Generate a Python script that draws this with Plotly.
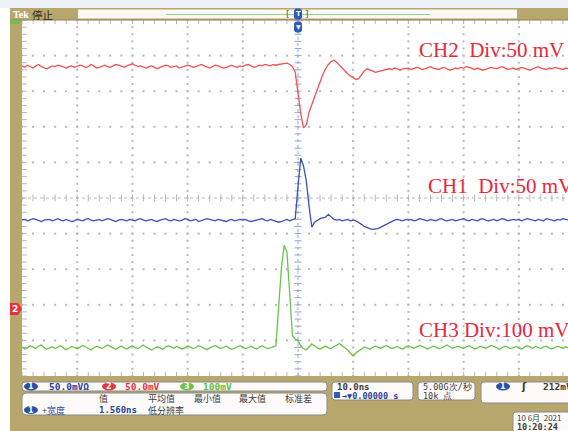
import plotly.graph_objects as go

W, H = 568, 431

# ---------------- data ----------------
# time axis: 10 ns/div, trigger at centre, samples every 0.5 ns
t_ns = [-50 + 0.5 * i for i in range(199)]

ch1_mv = ([0, 1, -1, 0, 2, 1, -1, -2, 0, 1, 1, -1, 0, 2, 0, -1, 1, 0, -2, -1]
          + [1, 0, -1, 1, 2, 0, -1, 0, 1, -1, 0, 2, 1, -1, -2, 0, 1, 0, -1, 1]
          + [0, -1, 1, 2, 0, -1, 0, 1, -1, -2, 0, 1, 2, 0, -1, 1, 0, -1, 0, 2]
          + [1, -1, 0, 1, -2, -1, 0, 2, 1, 0, -1, 1, 0, -1, -2, 0, 1, -1, 0, 1]
          + [0, 1, -1, -2, -1, 0, 1, 2, 0, -1, 1, 0, -1, -3, -2, 0, 1, -1, 0, 2]
          + [47, 87, 76, 55, 20, -10, -3, 0, 2, 3, 4, 8, 5, 1, 0, 1, -1, 0, 1, -1]
          + [0, -1, -3, -6, -9, -11, -12, -13, -13, -12, -10, -8, -5, -3, -1, 0, 1, 0, -1, 1]
          + [0, 1, -1, 0, 2, 1, 0, -1, 1, 0, -1, 1, 2, 0, -1, 0, 1, -1, 0, 1]
          + [2, 0, -1, 1, 0, -1, 1, 2, 0, -1, 0, 1, -1, 0, 2, 1, -1, 0, 1, 0]
          + [1, -1, 0, 2, 1, 0, -1, 1, 0, -1, 2, 1, 0, -1, 1, 0, 2, 1, 0])

ch2_mv = ([1, -1, 2, 0, -2, 1, 3, 0, -1, -3, -1, 1, 0, 2, 1, -1, -2, 0, 1, -1]
          + [0, 2, 1, -1, 0, 3, 1, -2, -1, 1, 2, 0, -1, 1, 3, 2, 0, -1, 1, 2]
          + [4, 2, 0, 1, -1, -2, 0, 1, -1, -3, -1, 0, 2, 1, -1, 0, 1, -2, -1, 0]
          + [2, 1, -1, 0, 1, 3, 1, -1, -2, 0, 2, 1, 0, -2, -1, 1, 2, 0, -1, 1]
          + [0, 2, 3, 1, -1, 0, 2, 1, 3, 2, 1, 3, 2, 3, 4, 4, 5, 3, 0, -8]
          + [-38, -66, -86, -82, -64, -53, -42, -31, -20, -11, -3, 3, 7, 9, 6, 2, -3, -7, -10, -13]
          + [-16, -18, -17, -12, -6, -3, -4, -6, -8, -7, -6, -5, -4, -3, -4, -2, -3, -5, -3, -2]
          + [-2, -4, -3, -1, -2, -4, -3, -2, 0, -2, -3, -4, -2, -1, -3, -5, -4, -2, -3, -1]
          + [-2, 0, -1, -3, -4, -2, -3, -5, -4, -2, -1, -2, -3, -1, 0, -2, -4, -3, -2, -4]
          + [-3, -1, -2, -4, -5, -3, -2, 0, -2, -3, -4, -2, -3, -1, -2, -3, -4, -2, -3])

ch3_mv = ([3, -3, 0, 6, 2, -2, 5, 8, 1, -4, 0, 3, -2, 2, 6, 0, -5, -1, 4, 1]
          + [-3, 2, 7, 3, -1, -6, 0, 4, 2, -2, 3, 8, 4, -1, -4, 1, 5, 0, -3, 2]
          + [6, 1, -2, 3, 8, 2, -3, -6, -1, 3, 0, -4, 2, 6, 3, -1, 4, 1, -3, 0]
          + [5, 2, -2, 1, 6, 3, -1, -5, 0, 4, 7, 2, -2, 1, 5, 0, -4, -1, 3, 6]
          + [2, -2, 1, 5, 0, -3, 2, 6, 1, -2, 0, 3, 6, 116, 225, 288, 268, 152, 34, 25]
          + [20, 6, -2, -6, 2, 11, 6, 0, -3, 2, 5, 0, -2, 3, 8, 12, 6, 0, -6, -15]
          + [-23, -14, -8, -3, 2, 0, -4, 1, 5, 2, -1, 3, 7, 2, -2, 1, 4, -1, -3, 2]
          + [6, 2, -1, 3, 7, 4, 0, -3, 1, 5, 2, -2, 0, 4, 8, 3, -1, 2, 5, 1]
          + [-2, 3, 6, 1, -3, 0, 4, 2, -1, 3, 7, 4, 0, -4, 1, 5, 2, -2, 1, 4]
          + [0, -3, 2, 6, 3, -1, 4, 1, -2, 3, 5, 0, -3, 1, 4, 2, -1, 3, 0])

channels = ["CH1", "CH2", "CH3"]
mv_per_div = [50, 50, 100]
offset_div = [-0.62, 3.69, -4.21]
labels = ["CH1\u00a0\u00a0Div:50 mV", "CH2\u00a0\u00a0Div:50 mV", "CH3 Div:100 mV"]

# ---------------- styling ----------------
KHAKI = "#b7a76d"
TRACE_COLORS = ["#3f4fb4", "#ef5454", "#6cc24c"]
LABEL_RED = "#e6283c"
GRID = "#b8b8b8"
CGRID = "#9aa5d2"

X = lambda px: px / W
Y = lambda py: 1 - py / H

PLOT_L, PLOT_T, PLOT_B = 22, 20, 376
CENTER_X = 298
PX_PER_DIV = 55.2
x_left = -(CENTER_X - PLOT_L) / PX_PER_DIV * 10
x_right = (W - CENTER_X) / PX_PER_DIV * 10

fig = go.Figure()

# graticule dots
gx, gy = [], []
for k in range(-4, 5):
    if k == 0:
        continue
    for j in range(51):
        gx.append(k * 10); gy.append(-5 + 0.2 * j)
for k in range(-4, 5):
    if k == 0:
        continue
    for j in range(50):
        gx.append(-50 + 2 * j); gy.append(k)
fig.add_trace(go.Scatter(x=gx, y=gy, mode="markers", hoverinfo="skip",
                         marker=dict(symbol="square", size=2, color=GRID, line_width=0)))

# centre cross ticks + edge ticks
hx = [-50 + 2 * j for j in range(50)]
fig.add_trace(go.Scatter(x=hx, y=[0] * len(hx), mode="markers", hoverinfo="skip",
                         marker=dict(symbol="line-ns-open", size=5, color=GRID, line=dict(color=GRID, width=1))))
fig.add_trace(go.Scatter(x=hx + hx, y=[5] * len(hx) + [-5] * len(hx), mode="markers", hoverinfo="skip",
                         marker=dict(symbol="line-ns-open", size=6, color=GRID, line=dict(color=GRID, width=1))))
vy = [-5 + 0.2 * j for j in range(51)]
fig.add_trace(go.Scatter(x=[0] * len(vy), y=vy, mode="markers", hoverinfo="skip",
                         marker=dict(symbol="line-ew-open", size=5, color=CGRID, line=dict(color=CGRID, width=1))))
fig.add_trace(go.Scatter(x=[x_left] * len(vy), y=vy, mode="markers", hoverinfo="skip",
                         marker=dict(symbol="line-ew-open", size=7, color=GRID, line=dict(color=GRID, width=1))))

# waveforms
wave_map = {"CH1": ch1_mv, "CH2": ch2_mv, "CH3": ch3_mv}
for i, ch in enumerate(channels):
    v = wave_map[ch]
    n = min(len(v), len(t_ns))
    fig.add_trace(go.Scatter(
        x=t_ns[:n], y=[offset_div[i] + val / mv_per_div[i] for val in v[:n]],
        mode="lines", line=dict(color=TRACE_COLORS[i], width=1.3), hoverinfo="skip"))

shapes = []
ann = []

def rect(x0, y0, x1, y1, fill, line=None, lw=0):
    shapes.append(dict(type="rect", xref="paper", yref="paper", x0=X(x0), x1=X(x1), y0=Y(y1), y1=Y(y0),
                       fillcolor=fill, line=dict(color=line or fill, width=lw), layer="above"))

def rrect(x0, y0, x1, y1, r, fill, line, lw=1):
    p = (f"M {X(x0+r)},{Y(y0)} L {X(x1-r)},{Y(y0)} Q {X(x1)},{Y(y0)} {X(x1)},{Y(y0+r)} "
         f"L {X(x1)},{Y(y1-r)} Q {X(x1)},{Y(y1)} {X(x1-r)},{Y(y1)} L {X(x0+r)},{Y(y1)} "
         f"Q {X(x0)},{Y(y1)} {X(x0)},{Y(y1-r)} L {X(x0)},{Y(y0+r)} Q {X(x0)},{Y(y0)} {X(x0+r)},{Y(y0)} Z")
    shapes.append(dict(type="path", xref="paper", yref="paper", path=p, fillcolor=fill,
                       line=dict(color=line, width=lw), layer="above"))

def text(s, x, y, color, size, family="DejaVu Sans Mono", xanchor="left", bold=False):
    ann.append(dict(text=f"<b>{s}</b>" if bold else s, x=X(x), y=Y(y), xref="paper", yref="paper",
                    xanchor=xanchor, yanchor="middle", showarrow=False,
                    font=dict(color=color, size=size, family=family)))

def badge(x0, y0, x1, y1, fill, txt):
    shapes.append(dict(type="circle", xref="paper", yref="paper", x0=X(x0), x1=X(x1), y0=Y(y1), y1=Y(y0),
                       fillcolor=fill, line=dict(color=fill, width=0), layer="above"))
    text(txt, (x0 + x1) / 2, (y0 + y1) / 2, "white", 8, "DejaVu Sans", "center", bold=True)

CJK = "Noto Sans CJK SC"
DARK = "#3a3a3a"
BLUE = "#2b43a0"

# frame
rect(0, 0, W, 8, "#eef2f8")
rect(10, 8, PLOT_L, H, KHAKI)
rect(10, PLOT_B, W, H, KHAKI)
rect(10, 8, W, PLOT_T, KHAKI)
rect(78, 9.5, 517, 18.5, "#fcf8f6")
shapes.append(dict(type="line", xref="paper", yref="paper", x0=X(10), x1=X(W), y0=Y(20), y1=Y(20),
                   line=dict(color="#8d7e52", width=1), layer="above"))
shapes.append(dict(type="line", xref="paper", yref="paper", x0=X(166), x1=X(430), y0=Y(14.5), y1=Y(14.5),
                   line=dict(color="#8fd08a", width=1), layer="above"))
# centre cross dotted lines
shapes.append(dict(type="line", xref="x", yref="y", x0=0, x1=0, y0=-5, y1=5,
                   line=dict(color=CGRID, width=1, dash="dot"), layer="below"))
shapes.append(dict(type="line", xref="x", yref="y", x0=x_left, x1=x_right, y0=0, y1=0,
                   line=dict(color=GRID, width=1, dash="dot"), layer="below"))

text("Tek", 11, 14.5, "white", 10, "Liberation Serif", bold=True)
text("停止", 30, 14.5, "#2f2a1c", 10.5, CJK)
# trigger markers
rrect(294.5, 9, 301.5, 19, 2, "#2f5cb8", "#2f5cb8")
text("T", 298, 14, "white", 7, "DejaVu Sans", "center", bold=True)
rrect(294.5, 22, 301.5, 32, 2, "#2f5cb8", "#2f5cb8")
text("▼", 298, 27, "white", 6, "DejaVu Sans", "center")
text("[", 288, 14, "#555555", 9, "DejaVu Sans", "center")
text("]", 307, 14, "#555555", 9, "DejaVu Sans", "center")
# small green icon top-left
rect(11, 20, 20, 24, "#6cc24c")
# channel 2 ground marker
shapes.append(dict(type="path", xref="paper", yref="paper",
                   path=f"M {X(10)},{Y(303)} L {X(18)},{Y(303)} L {X(22)},{Y(309)} L {X(18)},{Y(315)} L {X(10)},{Y(315)} Z",
                   fillcolor="#e8333f", line=dict(color="#e8333f", width=0), layer="above"))
text("2", 14.5, 309, "white", 9, "DejaVu Sans", "center", bold=True)

# channel labels
label_pos = {"CH2": (417, 50), "CH1": (426, 186), "CH3": (417, 330)}
for i, ch in enumerate(channels):
    lx, ly = label_pos[ch]
    text(labels[i], lx, ly, LABEL_RED, 21, "Liberation Serif")

# bottom status boxes
rrect(22, 382, 327, 391, 3, "#fdfbfa", "#8a8a8a")
rrect(22, 393, 327, 415, 4, "#fdfbfa", "#8a8a8a")
rrect(332, 382, 413, 400, 3, "#fdfbfa", "#8a8a8a")
rrect(418, 382, 475, 400, 3, "#fdfbfa", "#8a8a8a")
rrect(481, 382, 580, 403, 3, "#fdfbfa", "#8a8a8a")
rrect(513, 412, 580, 440, 3, "#fdfbfa", "#8a8a8a")

badge(24, 382.5, 38, 390.5, "#2b4fa8", "1")
text("50.0mVΩ", 47, 386.5, BLUE, 9.5, bold=True)
badge(102, 382.5, 116, 390.5, "#e8333f", "2")
text("50.0mV", 123, 386.5, "#e8333f", 9.5, bold=True)
badge(180, 382.5, 194, 390.5, "#6cc24c", "3")
text("100mV", 201, 386.5, "#5fbf45", 9.5, bold=True)

text("值", 97, 398, DARK, 9, CJK)
text("平均值", 146, 398, DARK, 9, CJK)
text("最小值", 192, 398, DARK, 9, CJK)
text("最大值", 237, 398, DARK, 9, CJK)
text("标准差", 283, 398, DARK, 9, CJK)
badge(24, 406, 38, 414, "#2b4fa8", "1")
text("+宽度", 40, 410, BLUE, 9, CJK)
text("1.560ns", 97, 410, BLUE, 9, bold=True)
text("低分辨率", 146, 410, DARK, 9, CJK)

text("10.0ns", 335, 386.5, DARK, 9, bold=True)
rect(334, 392, 340, 398, "#2f5cb8")
text("→▼0.00000 s", 340, 395.5, BLUE, 8.5, bold=True)
text("5.00G次/秒", 421, 386.5, DARK, 8.5)
text("10k 点", 421, 395.5, DARK, 8.5)
badge(496, 382.5, 510, 390.5, "#2b4fa8", "1")
text("ʃ", 519, 386.5, DARK, 10, "DejaVu Sans", bold=True)
text("212mV", 541, 386.5, DARK, 9.5, bold=True)
text("10 6月  2021", 515, 417, DARK, 8, CJK)
text("10:20:24", 515, 426.5, DARK, 8.5, bold=True)

fig.update_layout(
    width=W, height=H, autosize=False,
    margin=dict(l=0, r=0, t=0, b=0, pad=0),
    paper_bgcolor="white", plot_bgcolor="white",
    showlegend=False, shapes=shapes, annotations=ann,
    xaxis=dict(domain=[X(PLOT_L), 1], range=[x_left, x_right], visible=False, fixedrange=True),
    yaxis=dict(domain=[Y(PLOT_B), Y(PLOT_T)], range=[-5, 5], visible=False, fixedrange=True),
)

fig.write_html("out.html")
